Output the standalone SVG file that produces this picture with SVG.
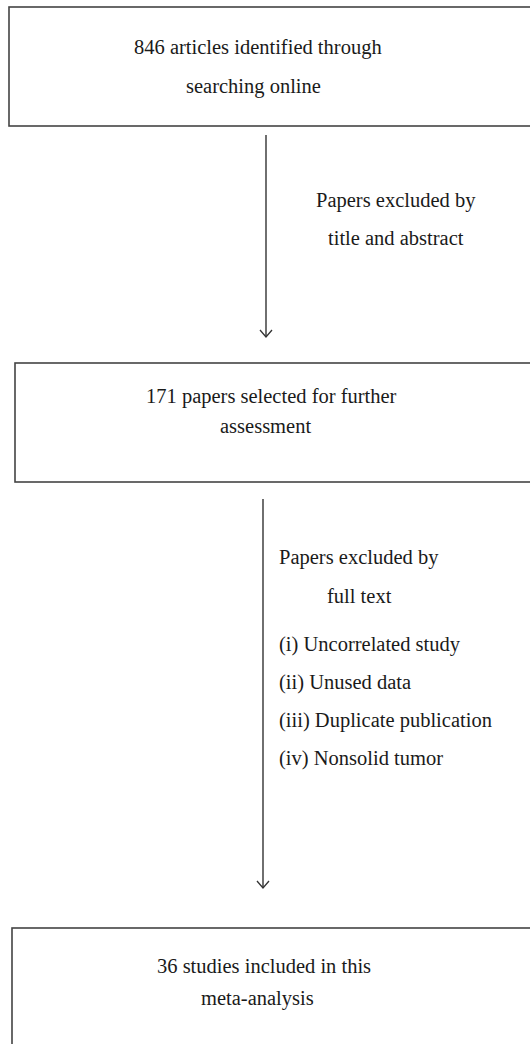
<svg xmlns="http://www.w3.org/2000/svg" width="530" height="1044" viewBox="0 0 530 1044">
<defs>
<style>
.box{fill:#fff;stroke:#444;stroke-width:1.6}
.t{font-family:"Liberation Serif","Times New Roman",serif;font-size:20.5px;fill:#1a1a1a}
.c{stroke:#333;stroke-width:1.4;fill:none}
</style>
<marker id="ah" markerWidth="14" markerHeight="14" refX="8" refY="7" orient="auto" markerUnits="userSpaceOnUse" viewBox="0 0 14 14">
<path d="M1,1 L8,7 L1,13" fill="none" stroke="#333" stroke-width="1.3"/>
</marker>
</defs>
<rect width="530" height="1044" fill="#fff"/>
<g id="node1">
<rect class="box" x="9" y="7" width="530" height="119"/>
<text class="t" x="134" y="54">846 articles identified through</text>
<text class="t" x="186" y="93">searching online</text>
</g>
<g id="node2">
<rect class="box" x="15" y="363" width="530" height="119"/>
<text class="t" x="146" y="403">171 papers selected for further</text>
<text class="t" x="220" y="433">assessment</text>
</g>
<g id="node3">
<rect class="box" x="12" y="928" width="530" height="130"/>
<text class="t" x="157" y="973">36 studies included in this</text>
<text class="t" x="201" y="1005">meta-analysis</text>
</g>
<g id="connectors">
<line class="c" x1="266" y1="135" x2="266" y2="337" marker-end="url(#ah)"/>
<line class="c" x1="263" y1="499" x2="263" y2="888" marker-end="url(#ah)"/>
</g>
<g id="label1">
<text class="t" x="316" y="207">Papers excluded by</text>
<text class="t" x="328" y="245">title and abstract</text>
</g>
<g id="label2">
<text class="t" x="279" y="564">Papers excluded by</text>
<text class="t" x="327" y="603">full text</text>
<text class="t" x="279" y="651">(i) Uncorrelated study</text>
<text class="t" x="279" y="689">(ii) Unused data</text>
<text class="t" x="279" y="727">(iii) Duplicate publication</text>
<text class="t" x="279" y="765">(iv) Nonsolid tumor</text>
</g>
</svg>
